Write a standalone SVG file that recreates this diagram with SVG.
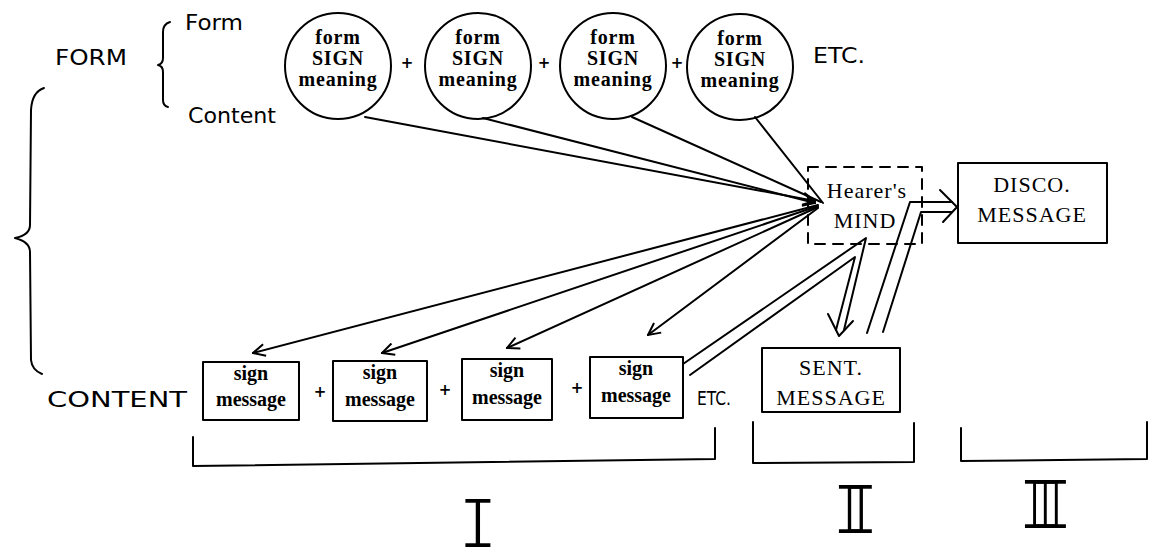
<svg xmlns="http://www.w3.org/2000/svg" width="1155" height="553" viewBox="0 0 1155 553">
<style>
.ln{stroke:#000;stroke-width:2;fill:none;stroke-linecap:round;stroke-linejoin:round}
.sans{font-family:"DejaVu Sans","Liberation Sans",sans-serif;fill:#000}
.cir{font-family:"Liberation Serif",serif;font-weight:bold;font-size:20px;letter-spacing:0.8px;text-anchor:middle;fill:#000}
.sm{font-family:"Liberation Serif",serif;font-weight:bold;font-size:20px;text-anchor:middle;fill:#000}
.cap{font-family:"Liberation Serif",serif;font-size:22px;text-anchor:middle;fill:#000;letter-spacing:1px}
.plus{font-family:"DejaVu Sans",sans-serif;font-weight:bold;font-size:15px;text-anchor:middle;fill:#000}
.rom{font-family:"Liberation Mono",monospace;font-size:48px;text-anchor:middle;fill:#000}
</style>
<defs>
<marker id="arr" viewBox="0 0 14 14" refX="13" refY="7" markerWidth="14" markerHeight="14" markerUnits="userSpaceOnUse" orient="auto">
<path d="M1,1 L13,7 L1,13" fill="none" stroke="#000" stroke-width="2"/>
</marker>
<filter id="thin" x="-20%" y="-20%" width="140%" height="140%">
<feMorphology operator="erode" radius="0.9"/>
</filter>
</defs>
<rect width="1155" height="553" fill="#fff"/>

<g id="labels">
<text class="sans" x="55" y="65" font-size="21" textLength="72" lengthAdjust="spacingAndGlyphs">FORM</text>
<text class="sans" x="185" y="30" font-size="21" textLength="58" lengthAdjust="spacingAndGlyphs">Form</text>
<text class="sans" x="188" y="123" font-size="21" textLength="88" lengthAdjust="spacingAndGlyphs">Content</text>
<text class="sans" x="47" y="407" font-size="21" textLength="140" lengthAdjust="spacingAndGlyphs">CONTENT</text>
<text class="sans" x="813" y="63" font-size="22" textLength="52" lengthAdjust="spacingAndGlyphs">ETC.</text>
<text class="sans" x="697" y="405" font-size="20" textLength="34" lengthAdjust="spacingAndGlyphs">ETC.</text>
</g>

<g id="braces">
<path class="ln" d="M170,22 Q163,24 163,32 L163,58 Q163,64 158,65 Q163,66 163,72 L163,100 Q163,106 168,107"/>
<path class="ln" stroke-width="2.5" d="M44,88 Q32,92 31,110 L30,225 Q30,235 15,238 Q30,242 30,252 L31,360 Q32,370 42,374"/>
</g>

<g id="sign1"><circle class="ln" cx="338" cy="66" r="53"/>
<text class="cir" x="338" y="44">form</text><text class="cir" x="338" y="65">SIGN</text><text class="cir" x="338" y="86">meaning</text></g>
<text class="plus" x="407" y="68">+</text>
<g id="sign2"><circle class="ln" cx="478" cy="66" r="53"/>
<text class="cir" x="478" y="44">form</text><text class="cir" x="478" y="65">SIGN</text><text class="cir" x="478" y="86">meaning</text></g>
<text class="plus" x="544" y="68">+</text>
<g id="sign3"><circle class="ln" cx="613" cy="66" r="53"/>
<text class="cir" x="613" y="44">form</text><text class="cir" x="613" y="65">SIGN</text><text class="cir" x="613" y="86">meaning</text></g>
<text class="plus" x="677" y="68">+</text>
<g id="sign4"><circle class="ln" cx="740" cy="67" r="53"/>
<text class="cir" x="740" y="45">form</text><text class="cir" x="740" y="66">SIGN</text><text class="cir" x="740" y="87">meaning</text></g>

<g id="mind">
<rect class="ln" x="808" y="167" width="114" height="77" stroke-dasharray="10 8"/>
<text class="cap" x="867" y="198" font-size="21" letter-spacing="0.5">Hearer's</text>
<text class="cap" x="865" y="228" font-size="24">MIND</text>
</g>

<g id="disco">
<rect class="ln" x="958" y="163" width="149" height="80"/>
<text class="cap" x="1032" y="192">DISCO.</text>
<text class="cap" x="1032" y="222">MESSAGE</text>
</g>

<g id="msg1"><rect class="ln" x="203" y="362" width="96" height="58"/>
<text class="sm" x="251" y="380">sign</text><text class="sm" x="251" y="406">message</text></g>
<text class="plus" x="320" y="397">+</text>
<g id="msg2"><rect class="ln" x="333" y="361" width="94" height="60"/>
<text class="sm" x="380" y="379">sign</text><text class="sm" x="380" y="406">message</text></g>
<text class="plus" x="445" y="395">+</text>
<g id="msg3"><rect class="ln" x="462" y="359" width="90" height="61"/>
<text class="sm" x="507" y="377">sign</text><text class="sm" x="507" y="404">message</text></g>
<text class="plus" x="577" y="393">+</text>
<g id="msg4"><rect class="ln" x="590" y="357" width="93" height="61"/>
<text class="sm" x="636" y="375">sign</text><text class="sm" x="636" y="402">message</text></g>

<g id="sent">
<rect class="ln" x="762" y="348" width="138" height="64"/>
<text class="cap" x="831" y="375">SENT.</text>
<text class="cap" x="831" y="405">MESSAGE</text>
</g>

<g id="connectors">
<path class="ln" d="M365,117 L815,201" marker-end="url(#arr)"/>
<path class="ln" d="M483,118 L815,203" marker-end="url(#arr)"/>
<path class="ln" d="M632,117 L821,202"/>
<path class="ln" d="M755,117 L823,203"/>
<path class="ln" d="M818,205 L253,353" marker-end="url(#arr)"/>
<path class="ln" d="M818,206 L382,353" marker-end="url(#arr)"/>
<path class="ln" d="M818,207 L507,348" marker-end="url(#arr)"/>
<path class="ln" d="M818,208 L648,335" marker-end="url(#arr)"/>
<path class="ln" d="M683,364 L866,238 L844,330"/>
<path class="ln" d="M690,375 L855,257 L836,330"/>
<path class="ln" d="M828,314 L839,336 L853,321"/>
<path class="ln" d="M867,333 L910,202 L952,202"/>
<path class="ln" d="M883,332 L921,212 L952,212"/>
<path class="ln" d="M940,190 L957,207 L943,222"/>
</g>

<g id="brackets">
<path class="ln" d="M193,437 L193,466 L715,459 L715,428"/>
<path class="ln" d="M753,422 L753,463 L914,462 L914,423"/>
<path class="ln" d="M961,428 L961,461 L1147,459 L1147,422"/>
<g filter="url(#thin)">
<text class="rom" transform="translate(478,548) scale(1.4,1.6)">I</text>
<text class="rom" transform="translate(844,534) scale(1.2,1.6)" letter-spacing="-19">II</text>
<text class="rom" transform="translate(1035,529) scale(1.1,1.6)" letter-spacing="-19">III</text>
</g>
</g>
</svg>
